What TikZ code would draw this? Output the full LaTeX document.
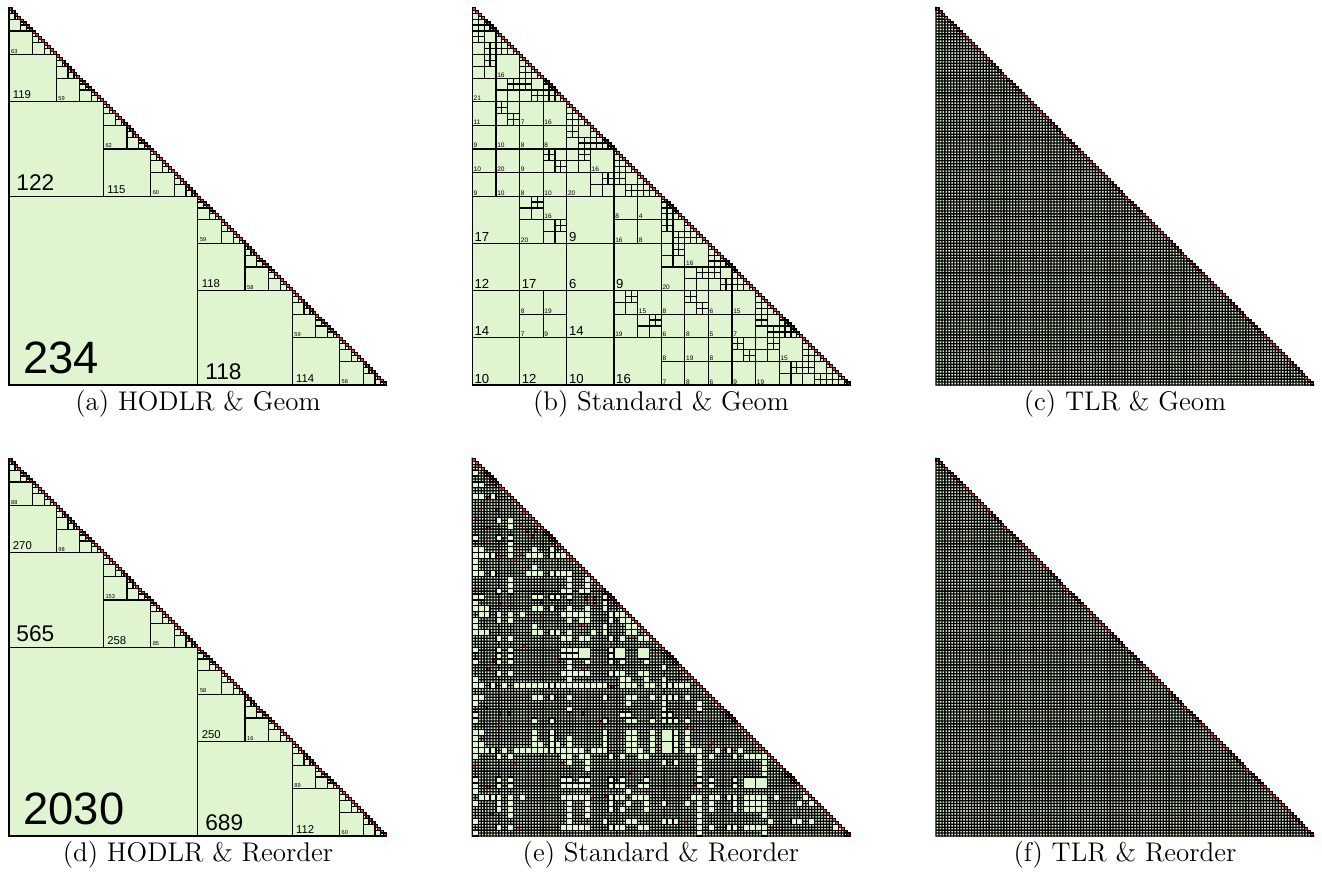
\documentclass[tikz,border=0pt]{standalone}
\usepackage{fontspec}
\newfontfamily\lblfont{Liberation Sans}
\definecolor{lrgreen}{HTML}{DFF5D0}
\definecolor{dnred}{HTML}{E5323F}
\tikzset{
  panel/.style={x=1.4754pt, y=-1.4754pt},
  lowrank/.style={draw=black, fill=lrgreen, line width=0.6pt},
  dense/.style={draw=black, fill=dnred, line width=0.6pt},
  rank/.style={inner sep=0pt, anchor=base west},
  capt/.style={anchor=base, inner sep=0pt, font=\fontsize{13.5}{16}\selectfont}
}
\newif\ifhmskip
% cluster boxes, stored as hm-<set>-<level>-<index>-<key>
\newcommand\hmput[5]{\expandafter\xdef\csname hm-#1-#2-#3-#4\endcsname{#5}}
\newcommand\hmval[4]{\csname hm-#1-#2-#3-#4\endcsname}
\newcommand\hmboxes[1]{%
  \foreach \bl in {6,5,...,0} {
    \pgfmathtruncatemacro\nn{2^\bl-1}
    \pgfmathtruncatemacro\bc{\bl+1}
    \foreach \bj in {0,...,\nn} {
      \pgfmathtruncatemacro\ja{2*\bj}
      \pgfmathtruncatemacro\jb{2*\bj+1}
      \foreach \key/\fn in {xl/min,xh/max,yl/min,yh/max} {
        \edef\va{\hmval{#1}{\bc}{\ja}{\key}}
        \edef\vb{\hmval{#1}{\bc}{\jb}{\key}}
        \pgfmathsetmacro\bv{\fn(\va,\vb)}
        \hmput{#1}{\bl}{\bj}{\key}{\bv}
      }
    }
  }}
% block (level, row cluster, col cluster)
\newcommand\hmblk[4]{%
  \begingroup
  \edef\hlev{#2}\edef\hi{#3}\edef\hj{#4}%
  \pgfmathtruncatemacro\hs{2^(7-\hlev)}%
  \pgfmathtruncatemacro\hr{\hi*\hs}%
  \pgfmathtruncatemacro\hc{\hj*\hs}%
  \pgfmathtruncatemacro\hl{\hlev+1}%
  \ifnum\hi=\hj\relax
    \ifnum\hlev=7\relax
      \draw[dense] (\hc,\hr) rectangle ++(1,1);
    \else
      \pgfmathtruncatemacro\hia{2*\hi}%
      \pgfmathtruncatemacro\hib{2*\hi+1}%
      \hmblk{#1}{\hl}{\hia}{\hia}%
      \hmblk{#1}{\hl}{\hib}{\hia}%
      \hmblk{#1}{\hl}{\hib}{\hib}%
    \fi
  \else
    \edef\pxl{\hmval{#1}{\hlev}{\hi}{xl}}\edef\pxh{\hmval{#1}{\hlev}{\hi}{xh}}%
    \edef\pyl{\hmval{#1}{\hlev}{\hi}{yl}}\edef\pyh{\hmval{#1}{\hlev}{\hi}{yh}}%
    \edef\qxl{\hmval{#1}{\hlev}{\hj}{xl}}\edef\qxh{\hmval{#1}{\hlev}{\hj}{xh}}%
    \edef\qyl{\hmval{#1}{\hlev}{\hj}{yl}}\edef\qyh{\hmval{#1}{\hlev}{\hj}{yh}}%
    \edef\heta{\hmval{#1}{eta}{\hlev}{}}%
    \pgfmathsetmacro\hdx{max(0,\qxl-\pxh,\pxl-\qxh)}%
    \pgfmathsetmacro\hdy{max(0,\qyl-\pyh,\pyl-\qyh)}%
    \pgfmathsetmacro\hdist{veclen(\hdx,\hdy)}%
    \pgfmathsetmacro\hdia{min(veclen(\pxh-\pxl,\pyh-\pyl),veclen(\qxh-\qxl,\qyh-\qyl))}%
    \pgfmathtruncatemacro\hadm{(\hdist>0)*(\hdia<\heta*\hdist+0.001)}%
    \ifnum\hadm=1\relax
      \draw[lowrank] (\hc,\hr) rectangle ++(\hs,\hs);
    \else
      \ifnum\hlev=7\relax
        \draw[dense] (\hc,\hr) rectangle ++(1,1);
      \else
        \def\hgo{1}%
        \ifhmskip\ifnum\hlev=6\relax\def\hgo{0}\fi\fi
        \ifnum\hgo=1\relax
          \pgfmathtruncatemacro\hia{2*\hi}\pgfmathtruncatemacro\hib{2*\hi+1}%
          \pgfmathtruncatemacro\hja{2*\hj}\pgfmathtruncatemacro\hjb{2*\hj+1}%
          \hmblk{#1}{\hl}{\hia}{\hja}%
          \hmblk{#1}{\hl}{\hia}{\hjb}%
          \hmblk{#1}{\hl}{\hib}{\hja}%
          \hmblk{#1}{\hl}{\hib}{\hjb}%
        \fi
      \fi
    \fi
  \fi
  \endgroup}
\newcommand\hodlrblocks{%
  \foreach \lev in {1,...,7} {
    \pgfmathtruncatemacro\sz{2^(7-\lev)}
    \pgfmathtruncatemacro\nb{2^(\lev-1)-1}
    \foreach \k in {0,...,\nb}
      \draw[lowrank] ({2*\k*\sz},{(2*\k+1)*\sz}) rectangle ++(\sz,\sz);
  }
  \foreach \q in {0,...,127}
    \draw[dense] (\q,\q) rectangle ++(1,1);
}
% lower triangle of 128 x 128 unit tiles, grid lines as thin filled bars
\newcommand\tiles{%
  \def\tw{0.22}
  \fill[lrgreen] (0,1) \foreach \q in {1,...,127} { -- (\q,\q) -- (\q,\q+1) } -- (0,128) -- cycle;
  \foreach \q in {0,...,128}
    \fill[black] (0,\q-\tw) rectangle (\q+\tw,\q+\tw) (\q-\tw,\q-\tw) rectangle (\q+\tw,128+\tw);
}
\newcommand\ranklabel[5]{%
  \pgfmathsetmacro\lfs{\lblscale*#4}%
  \node[rank, font=\lblfont\fontsize{\lfs}{\lfs}\selectfont] (#1) at ({#3+\lblpadx*#4},{#2+#4-\lblpady*#4}) {#5};}

\begin{document}
\begin{tikzpicture}[x=0.5pt, y=-0.5pt]
\useasboundingbox (0,0) rectangle (1322,880);

% geometry: 16 x 8 grid of points, bisection order
\foreach \q in {0,...,127} {
  \pgfmathtruncatemacro\gx{8*floor(\q/64)+4*mod(floor(\q/16),2)+2*mod(floor(\q/4),2)+mod(\q,2)}
  \pgfmathtruncatemacro\gy{4*mod(floor(\q/32),2)+2*mod(floor(\q/8),2)+mod(floor(\q/2),2)}
  \hmput{g}{7}{\q}{xl}{\gx}\hmput{g}{7}{\q}{xh}{\gx}
  \hmput{g}{7}{\q}{yl}{\gy}\hmput{g}{7}{\q}{yh}{\gy}
}
\hmboxes{g}
\foreach \bl/\et in {1/2.5,2/2.5,3/2.5,4/2.5,5/1.2,6/1.2,7/1.2} {
  \hmput{g}{eta}{\bl}{}{\et}
}
% reordered points
\pgfmathsetseed{4711}
\foreach \q in {0,...,127} {
  \pgfmathsetmacro\gx{16*rnd}
  \pgfmathsetmacro\gy{8*rnd}
  \hmput{r}{7}{\q}{xl}{\gx}\hmput{r}{7}{\q}{xh}{\gx}
  \hmput{r}{7}{\q}{yl}{\gy}\hmput{r}{7}{\q}{yh}{\gy}
}
\hmboxes{r}
\foreach \bl in {1,...,7} {
  \hmput{r}{eta}{\bl}{}{1.22}
}

% (a) HODLR & Geom
\begin{scope}[shift={(9,7.3)}, panel]
  \hodlrblocks
  \def\lblscale{0.354}\def\lblpadx{0.075}\def\lblpady{0.06}
  \foreach \rw/\cl/\sz/\rk in {64/0/64/234, 32/0/32/122, 96/64/32/118,
      16/0/16/119, 48/32/16/115, 80/64/16/118, 112/96/16/114,
      8/0/8/63, 24/16/8/59, 40/32/8/62, 56/48/8/60,
      72/64/8/59, 88/80/8/58, 104/96/8/59, 120/112/8/58}
    {\ranklabel{a-\rw-\cl}{\rw}{\cl}{\sz}{\rk}}
\end{scope}

% (b) Standard & Geom
\begin{scope}[shift={(472.3,7.3)}, panel]
  \hmblk{g}{0}{0}{0}
  \def\lblscale{0.41}\def\lblpadx{0.04}\def\lblpady{0.042}
  \foreach \rw/\cl/\sz/\rk in {64/0/16/17, 64/32/16/9, 80/0/16/12, 80/16/16/17,
      80/32/16/6, 80/48/16/9, 96/0/16/14, 96/32/16/14,
      112/0/16/10, 112/16/16/12, 112/32/16/10, 112/48/16/16,
      16/8/8/16, 24/0/8/21, 32/0/8/11, 32/16/8/7, 32/24/8/16,
      40/0/8/9, 40/8/8/10, 40/16/8/8, 40/24/8/8,
      48/0/8/10, 48/8/8/20, 48/16/8/9, 48/40/8/16,
      56/0/8/9, 56/8/8/10, 56/16/8/8, 56/24/8/10, 56/32/8/20,
      64/24/8/16, 72/16/8/20, 64/48/8/8, 64/56/8/4, 72/48/8/16, 72/56/8/8,
      80/72/8/16, 88/64/8/20, 96/16/8/8, 96/24/8/19, 104/16/8/7, 104/24/8/9,
      96/56/8/15, 104/48/8/19, 96/64/8/8, 104/64/8/6, 104/72/8/8,
      96/80/8/6, 96/88/8/15, 104/80/8/5, 104/88/8/7,
      112/64/8/8, 112/72/8/19, 120/64/8/7, 120/72/8/8,
      112/80/8/8, 120/80/8/6, 120/88/8/9, 112/104/8/15, 120/96/8/19}
    {\ranklabel{b-\rw-\cl}{\rw}{\cl}{\sz}{\rk}}
\end{scope}

% (c) TLR & Geom
\begin{scope}[shift={(936,7.3)}, panel]
  \tiles
  \foreach \q in {0,...,127}
    \draw[dense] (\q,\q) rectangle ++(1,1);
\end{scope}

% (d) HODLR & Reorder
\begin{scope}[shift={(9,458.3)}, panel]
  \hodlrblocks
  \def\lblscale{0.354}\def\lblpadx{0.075}\def\lblpady{0.06}
  \foreach \rw/\cl/\sz/\rk in {64/0/64/2030, 32/0/32/565, 96/64/32/689,
      16/0/16/270, 48/32/16/258, 80/64/16/250, 112/96/16/112,
      8/0/8/88, 24/16/8/98, 40/32/8/153, 56/48/8/85,
      72/64/8/58, 88/80/8/16, 104/96/8/89, 120/112/8/60}
    {\ranklabel{d-\rw-\cl}{\rw}{\cl}{\sz}{\rk}}
\end{scope}

% (e) Standard & Reorder
\begin{scope}[shift={(472.3,458.3)}, panel]
  \tiles
  \pgfmathsetseed{271}
  \foreach \q in {1,...,70} {
    \pgfmathtruncatemacro\rw{1+floor(127*rnd)}
    \pgfmathtruncatemacro\cl{floor(\rw*rnd)}
    \draw[dense] (\cl,\rw) rectangle ++(1,1);
  }
  \hmskiptrue
  \hmblk{r}{0}{0}{0}
\end{scope}

% (f) TLR & Reorder
\begin{scope}[shift={(936,458.3)}, panel]
  \tiles
  \foreach \q in {0,...,127}
    \draw[dense] (\q,\q) rectangle ++(1,1);
\end{scope}

\node[capt] (capa) at (198,410) {(a) HODLR \& Geom};
\node[capt] (capb) at (661,410) {(b) Standard \& Geom};
\node[capt] (capc) at (1125,410) {(c) TLR \& Geom};
\node[capt] (capd) at (198,861) {(d) HODLR \& Reorder};
\node[capt] (cape) at (661,861) {(e) Standard \& Reorder};
\node[capt] (capf) at (1125,861) {(f) TLR \& Reorder};
\end{tikzpicture}
\end{document}
